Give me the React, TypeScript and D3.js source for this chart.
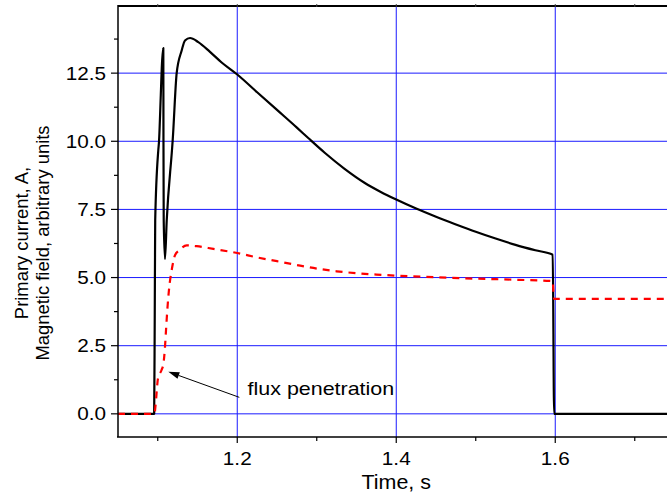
import React from 'react';
import * as d3 from 'd3';

const W = 667;
const H = 495;

// Primary current (black solid)
const currentTime = [1.05, 1.0955, 1.0962, 1.0968, 1.1007, 1.1016, 1.1037, 1.1053, 1.107, 1.1072, 1.1075, 1.1091, 1.1113, 1.1179, 1.1188, 1.1238, 1.1301, 1.1343, 1.1406, 1.151, 1.1657, 1.18, 1.2, 1.225, 1.25, 1.275, 1.29, 1.31, 1.335, 1.36, 1.38, 1.4, 1.425, 1.45, 1.475, 1.5, 1.525, 1.55, 1.575, 1.5968, 1.5986, 1.75];
const currentValue = [0, 0, 3.5, 7.1, 9.68, 10.0, 11.6, 12.84, 13.42, 10.0, 7.1, 5.68, 7.1, 9.68, 10.04, 12.5, 13.33, 13.7, 13.79, 13.64, 13.28, 12.9, 12.45, 11.8, 11.15, 10.5, 10.1, 9.58, 8.99, 8.48, 8.15, 7.86, 7.53, 7.23, 6.95, 6.68, 6.43, 6.2, 6.0, 5.84, 0, 0];

// Magnetic field (red dashed)
const fieldTime = [1.05, 1.0959, 1.0972, 1.1003, 1.1047, 1.1072, 1.1091, 1.1104, 1.112, 1.1145, 1.1175, 1.1217, 1.1271, 1.1364, 1.149, 1.17, 1.2, 1.225, 1.25, 1.275, 1.3, 1.325, 1.35, 1.375, 1.4, 1.45, 1.5, 1.55, 1.5968, 1.5978, 1.5984, 1.75];
const fieldValue = [0, 0, 0.3, 1.3, 1.6, 1.85, 2.45, 3.07, 3.8, 4.66, 5.27, 5.82, 6.0, 6.18, 6.15, 6.05, 5.9, 5.74, 5.6, 5.46, 5.33, 5.23, 5.16, 5.11, 5.07, 5.01, 4.96, 4.92, 4.87, 4.4, 4.22, 4.22];

const xDomain = [1.05, 1.75];
const yDomain = [-0.85, 15];
const xMajorTicks = [1.2, 1.4, 1.6];
const xMinorTicks = [1.1, 1.3, 1.5, 1.7];
const xTickLabels = ['1.2', '1.4', '1.6'];
const yMajorTicks = [0, 2.5, 5, 7.5, 10, 12.5];
const yMinorTicks = [1.25, 3.75, 6.25, 8.75, 11.25, 13.75];
const yTickLabels = ['0.0', '2.5', '5.0', '7.5', '10.0', '12.5'];
const xTitle = 'Time, s';
const yTitleLines = ['Primary current, A,', 'Magnetic field, arbitrary units'];
const annotationText = 'flux penetration';
const annotationTail = [1.2026, 0.605];
const annotationTip = [1.1133, 1.545];
const annotationLabel = [1.213, 0.69];

const FONT = '"Liberation Sans", Arial, sans-serif';
const GRID = '#1a1aff';

export default function App() {
  const x = d3.scaleLinear().domain(xDomain).range([118, 674.5]);
  const y = d3.scaleLinear().domain(yDomain).range([437, 5]);
  const left = x(xDomain[0]);
  const bottom = y(yDomain[0]);
  const top = y(yDomain[1]);

  const mk = (ts: number[], vs: number[]) =>
    d3
      .line<number>()
      .x((t) => x(t))
      .y((_, i) => y(vs[i]))
      .curve(d3.curveMonotoneX)(ts) || '';

  const currentPath = mk(currentTime, currentValue);
  const fieldPath = mk(fieldTime, fieldValue);

  // arrow
  const tx = x(annotationTail[0]);
  const ty = y(annotationTail[1]);
  const hx = x(annotationTip[0]);
  const hy = y(annotationTip[1]);
  const ang = Math.atan2(hy - ty, hx - tx);
  const hl = 11;
  const hw = 3.5;
  const bx = hx - hl * Math.cos(ang);
  const by = hy - hl * Math.sin(ang);
  const px = -Math.sin(ang) * hw;
  const py = Math.cos(ang) * hw;
  const headPts = `${hx},${hy} ${bx + px},${by + py} ${bx - px},${by - py}`;

  return (
    <svg
      width={W}
      height={H}
      style={{ position: 'absolute', left: 0, top: 0, background: '#fff', overflow: 'hidden' }}
      fontFamily={FONT}
    >
      <rect x={0} y={0} width={W} height={H} fill="#fff" />
      {/* grid */}
      {yMajorTicks.map((v) => (
        <line key={'gy' + v} x1={left} x2={W} y1={y(v)} y2={y(v)} stroke={GRID} strokeWidth={1} />
      ))}
      {xMajorTicks.map((t) => (
        <line key={'gx' + t} x1={x(t)} x2={x(t)} y1={top} y2={bottom} stroke={GRID} strokeWidth={1} />
      ))}

      {/* data */}
      <path d={currentPath} fill="none" stroke="#000" strokeWidth={2.2} strokeLinejoin="round" />
      <path d={fieldPath} fill="none" stroke="#ff0000" strokeWidth={2.2} strokeDasharray="7,6" />

      {/* axes */}
      <line x1={left} x2={W} y1={top + 1} y2={top + 1} stroke="#000" strokeWidth={2} />
      <line x1={left} x2={left} y1={top} y2={bottom} stroke="#000" strokeWidth={1.5} />
      <line x1={left - 1} x2={W} y1={bottom} y2={bottom} stroke="#000" strokeWidth={1.5} />

      {yMajorTicks.map((v) => (
        <line key={'ty' + v} x1={left - 7} x2={left} y1={y(v)} y2={y(v)} stroke="#000" strokeWidth={1.2} />
      ))}
      {yMinorTicks.map((v) => (
        <line key={'tym' + v} x1={left - 4} x2={left} y1={y(v)} y2={y(v)} stroke="#000" strokeWidth={1.2} />
      ))}
      {xMajorTicks.map((t) => (
        <line key={'tx' + t} x1={x(t)} x2={x(t)} y1={bottom} y2={bottom + 6} stroke="#000" strokeWidth={1.2} />
      ))}
      {xMinorTicks.map((t) => (
        <line key={'txm' + t} x1={x(t)} x2={x(t)} y1={bottom} y2={bottom + 4} stroke="#000" strokeWidth={1.2} />
      ))}
      {[...xMajorTicks, ...xMinorTicks].map((t) => (
        <line key={'tt' + t} x1={x(t)} x2={x(t)} y1={top - 1} y2={top + 2} stroke="#444" strokeWidth={1} />
      ))}

      {/* tick labels */}
      {yMajorTicks.map((v, i) => (
        <text
          key={'ly' + v}
          transform={`translate(106,${y(v) + 6.6}) scale(1.12,1)`}
          textAnchor="end"
          fontSize={18.5}
          fill="#000"
        >
          {yTickLabels[i]}
        </text>
      ))}
      {xMajorTicks.map((t, i) => (
        <text
          key={'lx' + t}
          transform={`translate(${x(t)},465) scale(1.12,1)`}
          textAnchor="middle"
          fontSize={18.5}
          fill="#000"
        >
          {xTickLabels[i]}
        </text>
      ))}

      {/* titles */}
      <text
        transform={`translate(${(left + x(xDomain[1])) / 2},488.5) scale(1.1,1)`}
        textAnchor="middle"
        fontSize={19.5}
        fill="#000"
      >
        {xTitle}
      </text>
      {yTitleLines.map((s, i) => (
        <text
          key={'yt' + i}
          transform={`translate(${28 + i * 21},243) rotate(-90)`}
          textAnchor="middle"
          fontSize={18.4}
          fill="#000"
        >
          {s}
        </text>
      ))}

      {/* annotation */}
      <line x1={tx} y1={ty} x2={bx} y2={by} stroke="#000" strokeWidth={1} />
      <polygon points={headPts} fill="#000" />
      <text
        transform={`translate(${x(annotationLabel[0])},${y(annotationLabel[1])}) scale(1.16,1)`}
        fontSize={18.5}
        fill="#000"
      >
        {annotationText}
      </text>
    </svg>
  );
}
